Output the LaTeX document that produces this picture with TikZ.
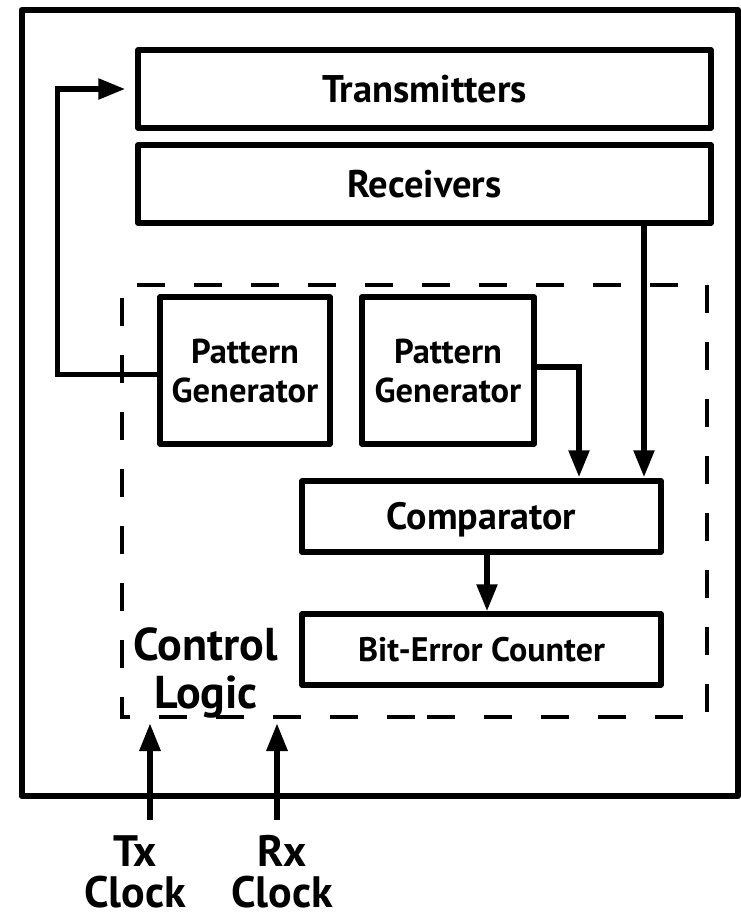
\documentclass[tikz,border=0pt]{standalone}
\usepackage{fontspec}
\setmainfont{PT Sans}
\usetikzlibrary{arrows.meta,calc}

\begin{document}
\begin{tikzpicture}[x=1pt,y=-1pt,
  box/.style={draw,line width=5.5pt,line join=round,rectangle,inner sep=0pt},
  bigtxt/.style={font=\fontsize{38.5}{42}\selectfont\bfseries,text height=27pt,text depth=0pt},
  cmptxt/.style={font=\fontsize{38}{42}\selectfont\bfseries,text height=26.5pt,text depth=0pt},
  midtxt/.style={font=\fontsize{34}{38}\selectfont\bfseries,text height=24pt,text depth=0pt},
  pgtxt/.style={font=\fontsize{34.5}{39}\selectfont\bfseries,align=center},
  lbl/.style={font=\fontsize{46}{48}\selectfont\bfseries,align=center,inner sep=0pt},
  clk/.style={font=\fontsize{44}{41}\selectfont\bfseries,align=center,inner sep=0pt,text depth=0pt},
  wire/.style={line width=5.5pt,line join=miter},
  arr/.style={wire,-{Triangle[length=27pt,width=20pt]}},
  dashbox/.style={line width=4.5pt,dash pattern=on 28pt off 29pt}
]
\useasboundingbox (0,0) rectangle (741,918);

% chip outline
\node[box,line width=6pt,minimum width=716.5pt,minimum height=786pt] (chip) at (379.75,403) {};

% analog front end
\node[box,bigtxt,minimum width=573pt,minimum height=78pt] (tx) at (424.5,89) {Transmitters};
\node[box,bigtxt,minimum width=573pt,minimum height=78pt] (rx) at (424.5,184) {Receivers};

% test logic blocks
\node[box,pgtxt,minimum width=170pt,minimum height=147pt] (pg1) at (245,370.5) {Pattern\\Generator};
\node[box,pgtxt,minimum width=172pt,minimum height=147pt] (pg2) at (448,370.5) {Pattern\\Generator};
\node[box,cmptxt,minimum width=359pt,minimum height=71pt] (cmp) at (481.5,516.5) {Comparator};
\node[box,midtxt,minimum width=359pt,minimum height=71pt] (bec) at (481.5,649.5) {Bit-Error Counter};

% control logic boundary (dashed)
\draw[dashbox] (707,285) -- (707,717) -- (420,717);
\draw[dashbox,dash phase=44pt] (122,285) -- (122,717) -- (415,717);
\draw[dashbox,dash phase=42pt] (122,285) -- (707,285);

\node[lbl,anchor=base] (ctl) at (206,708) {Control\\Logic};

% data paths
\draw[arr] ([yshift=-4pt]pg1.west) -| ($(tx.west)+(-78,0)$) -- ([xshift=-10pt]tx.west);
\draw[arr,shorten >=1pt] ([yshift=3.5pt]pg2.east) -| ($(cmp.north)+(97.5,0)$);
\draw[arr,shorten >=1pt] ($(rx.south)+(219.5,0)$) -- ($(cmp.north)+(162.5,0)$);
\draw[arr] ([xshift=5.5pt]cmp.south) -- ([xshift=5.5pt]bec.north);

% clock inputs
\node[clk,anchor=base] (txclk) at (135,907) {Tx\\Clock};
\node[clk,anchor=base] (rxclk) at (282,907) {Rx\\Clock};
\coordinate (txfrom) at (150,820);
\coordinate (txto) at (150,723);
\coordinate (rxfrom) at (277,820);
\coordinate (rxto) at (277,723);
\draw[arr,line width=6pt,-{Triangle[length=28pt,width=20pt]}] (txfrom) -- (txto);
\draw[arr,line width=6pt,-{Triangle[length=28pt,width=20pt]}] (rxfrom) -- (rxto);
\end{tikzpicture}
\end{document}
